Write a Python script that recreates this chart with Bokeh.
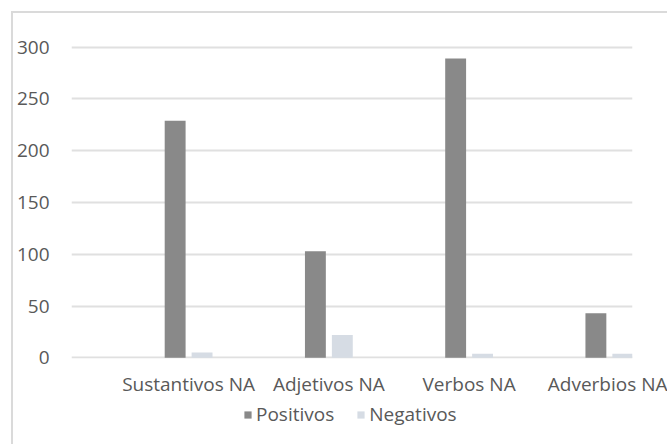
from bokeh.plotting import figure
from bokeh.layouts import column
from bokeh.models import Range1d, FixedTicker, Legend, LegendItem, ColumnDataSource
from bokeh.embed import file_html
from bokeh.resources import INLINE

categories = ["Sustantivos NA", "Adjetivos NA", "Verbos NA", "Adverbios NA"]
positivos = [229, 103, 289, 43]
negativos = [5, 22, 4, 4]
y_ticks = [0, 50, 100, 150, 200, 250, 300]
series_names = ["Positivos", "Negativos"]
series_colors = ["#898989", "#d6dce4"]

FONT = "Open Sans"
pos_x = [i - 0.096 for i in range(len(categories))]
neg_x = [i + 0.096 for i in range(len(categories))]

src_pos = ColumnDataSource(dict(x=pos_x, top=positivos))
src_neg = ColumnDataSource(dict(x=neg_x, top=negativos))

p = figure(
    width=654, height=387,
    x_range=Range1d(-0.835, 3.165),
    y_range=Range1d(-0.68, 306.5),
    output_backend="svg", toolbar_location=None,
    min_border_left=56, min_border_top=27, min_border_right=35, min_border_bottom=42,
)
p.outline_line_color = None
p.background_fill_color = "white"
p.border_fill_color = "white"

p.vbar(x="x", top="top", bottom=0, width=0.149, source=src_pos,
       fill_color=series_colors[0], line_color=None)
p.vbar(x="x", top="top", bottom=0, width=0.149, source=src_neg,
       fill_color=series_colors[1], line_color=None)

p.xgrid.grid_line_color = None
p.ygrid.grid_line_color = "#e0e0e0"
p.ygrid.grid_line_width = 2
p.yaxis.ticker = FixedTicker(ticks=y_ticks)
p.xaxis.ticker = FixedTicker(ticks=list(range(len(categories))))
p.xaxis.major_label_overrides = {i: c for i, c in enumerate(categories)}

for ax in (p.xaxis[0], p.yaxis[0]):
    ax.axis_line_color = None
    ax.major_tick_line_color = None
    ax.minor_tick_line_color = None
    ax.major_label_text_font = FONT
    ax.major_label_text_font_size = "19px"
    ax.major_label_text_color = "#595959"
p.yaxis.major_label_standoff = 16
p.xaxis.major_label_standoff = 6

# legend strip below the chart (no axes, so the frame fills the strip)
lg = figure(width=654, height=44, x_range=Range1d(0, 1), y_range=Range1d(0, 1),
            x_axis_location=None, y_axis_location=None,
            output_backend="svg", toolbar_location=None, min_border=0)
lg.grid.visible = False
lg.outline_line_color = None
lg.border_fill_color = "white"
lg.background_fill_color = "white"
items = []
for name, col in zip(series_names, series_colors):
    # zero-height sample so the legend can draw its swatch without a visible bar
    r = lg.vbar(x=[0.5], top=[0], bottom=[0], width=0.01, fill_color=col, line_color=None)
    items.append(LegendItem(label=name, renderers=[r]))
legend = Legend(items=items, orientation="horizontal", location=(172, 17),
                label_text_font=FONT, label_text_font_size="19px",
                label_text_color="#595959",
                glyph_width=9, glyph_height=9, label_standoff=4, spacing=22,
                padding=0, margin=0, border_line_color=None,
                background_fill_alpha=0)
lg.add_layout(legend)

layout = column(p, lg, spacing=0)
layout.styles = {"margin-left": "11px", "margin-top": "11px",
                 "border-left": "2px solid #dadada", "border-top": "2px solid #dadada"}

open("out.html", "w").write(file_html(layout, INLINE))
